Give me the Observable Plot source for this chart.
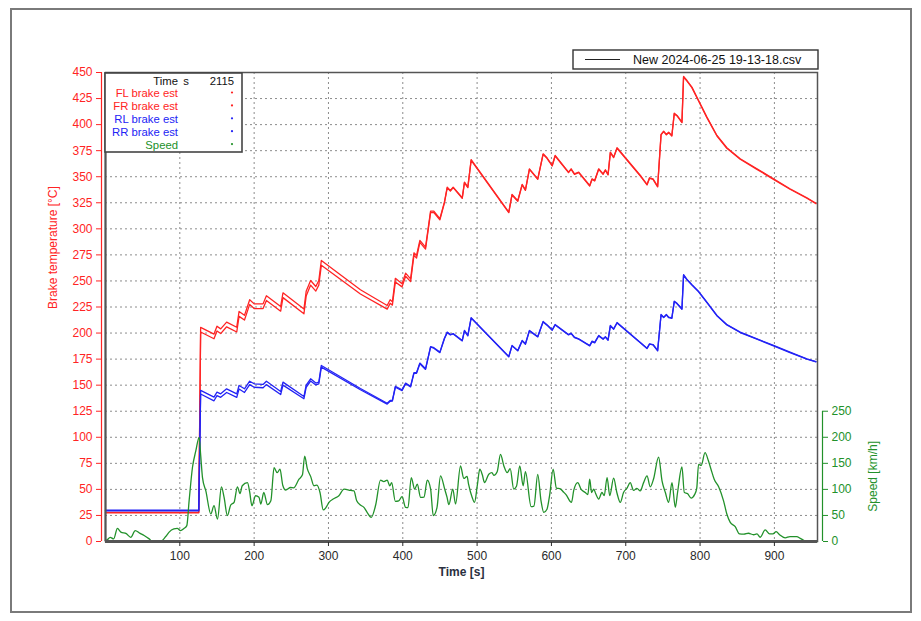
<!DOCTYPE html>
<html><head><meta charset="utf-8">
<script src="https://cdn.jsdelivr.net/npm/d3@7"></script>
<script src="https://cdn.jsdelivr.net/npm/@observablehq/plot@0.6"></script>
<style>
body{margin:0;background:#fff}
#chart{position:relative;width:921px;height:621px}
</style>
</head><body><div id="chart"></div>
<script>
// ---- data ----
const timeBrake = [0,125.5,128,146,150,155,163,176.6,179.7,187,194,200,212,216.5,235.7,238.8,267,270,276,283,287,290.4,343,379,383,386,390,399,403.8,410.5,415,418.5,423,430.6,437.4,441.8,449.9,456,459.8,464,467.8,480,483,487.5,492,542.6,547,554.7,560.6,565,570.4,581.6,588.8,594,601,605,623,626.5,631,636.7,651.5,654.7,658.2,663.6,669.5,672.6,676.2,679.3,683.7,688.3,720.8,728.6,732,736.7,742.9,747.5,751,754.6,757.7,762,765.3,769,775.6,777.8,782.4,789,798,809.2,822.7,836,854,876.5,898.8,921,943.7,956];
const flBrake = [28,28,205.5,199,206.6,204,210.5,205.6,220.7,217,232,228,228,235.8,225.5,238.6,223,240,250.4,244.7,250.4,269.6,241.5,226.5,232,230,252.5,247.3,257.5,252,277,274.4,289,282.4,317,317,309.7,325.6,340,336.8,340,329.8,344.8,340,366.3,316,333,327,342.6,337.4,357.6,348,372,368.2,360.8,370.4,354.4,357.6,352.8,354.4,341.6,348,346.4,357.6,352.8,356.7,352.2,373.6,368.8,377.8,350.2,342.6,349,348,340.7,390.6,393.7,390.6,392.8,389.6,411,408.8,402.4,446.2,442.3,436,423.2,407.2,389.6,377.8,367.2,357.6,348,338.5,329.8,324.6];
const frBrake = [27.5,27.5,201,194.5,202,199.5,206,201,216,212.5,227.5,223.5,223.5,231.3,221,234,218.5,235.5,246,240.3,246,265,237.5,223,228.5,226.8,249,244.3,254.5,249.3,274.5,272,287,280.6,315.5,315.7,308.6,324.8,339.3,336.2,339.5,329.3,344.3,339.5,365.8,315.5,332.5,326.5,342.1,336.9,357.1,347.5,371.5,367.7,360.3,369.9,353.9,357.1,352.3,353.9,341.1,347.5,345.9,357.1,352.3,356.2,351.7,373.1,368.3,377.3,349.7,342.1,348.5,347.5,340.2,390.1,393.2,390.1,392.3,389.1,410.5,408.3,401.9,445.7,441.8,435.5,422.7,406.7,389.1,377.3,366.7,357.1,347.5,338,329.3,324.1];
const rlBrake = [30,30,145,138.5,143.3,141.7,146.5,141.7,149.7,146.5,153.8,151.3,150.7,153.8,144,152.9,139.1,150,156.1,152,153,168.9,146.8,132.7,135.3,135.5,148.8,145.6,152,149,162,162,171.2,165.7,187,186,181.7,195,200.9,198.6,199.5,192.9,202.5,197.7,214.7,177.5,188.1,183.3,192.9,189.7,202.5,196.7,211.1,208,203.1,208.2,198.6,199.9,196,194.5,188.1,192.2,191,197.7,194.5,196.5,193.5,207.3,204,210.1,190.3,185.5,189.7,189,183.3,217.8,215.2,217.8,215.2,214.5,230.6,228.5,223.3,256,251.5,246.5,240,229.6,216.9,208.2,200.9,194.5,188.1,181.7,175.3,172.7];
const rrBrake = [29.5,29.5,141.5,135,140,138.3,143,138.3,146.3,143,150.5,148,147.5,150.5,141,150,137,148,154,150.2,151.3,167.3,145.6,131.8,134.5,134.7,148,144.8,151.3,148.3,161.3,161.4,170.6,165.1,186.5,185.5,181.2,194.5,200.4,198.2,199.1,192.5,202.1,197.3,214.3,177.1,187.7,182.9,192.5,189.3,202.1,196.3,210.7,207.6,202.7,207.8,198.2,199.5,195.6,194.1,187.7,191.8,190.6,197.3,194.1,196.1,193.1,206.9,203.6,209.7,189.9,185.1,189.3,188.6,182.9,217.4,214.8,217.4,214.8,214.1,230.2,228.1,222.9,255.6,251.1,246.1,239.6,229.2,216.5,207.8,200.5,194.1,187.7,181.3,174.9,172.3];

const timeSpeed = [0,2,6.3,11,16,20.7,28,34,40,46,52,58.8,63,74,81,85.6,92,96.5,101,105.5,109.4,112.5,117,121.5,126,128,130.5,135,141.7,146,150.7,156,159.5,164,168.5,173,177.5,181,184,191,194,197,202,206.5,209,213,218,222.5,226.8,231,234.8,238.5,242.5,249,253,260.4,265,268,271.5,276,280.5,284.5,288.6,293,296.5,300.7,307,314,321,330,334.3,338,343,347.7,352,357.6,363.5,370,374.5,379,382.5,385,390,394.5,399,403.8,407,411.4,416,419.5,424,428.5,433,437.5,441,446,450.8,456.5,459.5,462,467.3,471,477.7,482,486.5,488.5,493.4,496.5,500.5,503.6,507,510,515.7,520,522.5,527,531.5,536,540.5,544.5,549.3,553,557.4,562,565,572.7,576.5,581.6,586,589.7,594,597.7,602.3,606.7,612,615.5,619.6,627,630,635.4,640,645.5,649,651.5,654,657,659.5,663.6,668,671,674.9,678.5,683.7,688,692.7,697,701.7,706,710.5,715,719.5,724,728.6,733,737.4,744.2,748.8,753.3,757.7,762.2,766.7,769.7,775.6,778.8,783,788,792.6,795.5,798,801.5,806.7,811,814.7,819,825,831.6,836,840.6,847.3,853,859,865,872,876.5,881,887.6,893.5,898,902.4,907,914.5,921,930,935,940,943,958];
const speedKmh = [2,3,8,5,25,18,15,8,21,16,11.5,5,0.5,0,9.5,18,24,25,21,25,30.5,78,142,173.7,200,167,122.7,97,53,68.7,43,105,85,49.6,70,75,105,92,107,113,95,68.7,87.8,85,72,94,70.6,78,141.8,132,138.7,108,98.6,103.6,103,119.6,128,164,140,125,107,108,94,60.5,65,75,82,87.8,100.6,98,97.3,78,70,65.5,56,46.4,70,117.7,115,117.7,107,113,77,78,86,65.5,65,122.7,100.6,110,84.5,85,117.7,100,49.6,65,126,100,85,70.6,100.6,72,145,121,125,110,84.5,75,110,138.7,128,113,129,132,127,134,167.3,145,132,140,100.6,106,145,107,134,66.8,68,129,78,56,62,90,138.7,102.5,101,96,90,75,98,113,100,94,90,119.6,94,100.6,92,81.5,94,88,122.7,88,121.5,94,75,94,102.5,113,98,102,97,113,126,105,120,162,116.4,94,75,113,65.5,94,143,94,92,83.4,90,102,148,146,170.4,156,138.7,119.6,105,78,52.8,36.8,28.6,14.7,14,15.8,13,14.7,8.2,22.3,14.7,14.7,19,13,7,9.5,9.5,6,2,0,0];

const xTicks = [100,200,300,400,500,600,700,800,900];
const yTicks = [0,25,50,75,100,125,150,175,200,225,250,275,300,325,350,375,400,425,450];
const speedTicks = [0,50,100,150,200,250];
const xDomain = [0,958];
const yDomain = [0,450];
const SPEED_K = 0.5; // brake-axis units per km/h (250 km/h sits at 125 on the left axis)

const seriesNames = ["FL brake est","FR brake est","RL brake est","RR brake est","Speed"];
const RED="#ff2424", BLUE="#2323f5", GREEN="#22912a";
const seriesColors = [RED,RED,BLUE,BLUE,GREEN];
const headerLabel = ["Time","s","2115"];
const fileLabel = "New 2024-06-25 19-13-18.csv";

// ---- tables ----
const brake = timeBrake.map((t,i)=>({t, fl:flBrake[i], fr:frBrake[i], rl:rlBrake[i], rr:rrBrake[i]}));
const spd = timeSpeed.map((t,i)=>({t, v:speedKmh[i]}));

const W=921, H=621, mL=105, mR=104, mT=72, mB=80;
const FONT = "'Liberation Sans', Arial, Helvetica, sans-serif";
const grid = {stroke:"#8c8c8c", strokeOpacity:1, strokeDasharray:"2,3", strokeWidth:1};

const svg = Plot.plot({
  width: W, height: H,
  marginLeft: mL, marginRight: mR, marginTop: mT, marginBottom: mB,
  x: {domain: xDomain},
  y: {domain: yDomain},
  style: {fontFamily: FONT, fontSize: "12px", background: "transparent", overflow: "visible"},
  marks: [
    Plot.gridX(xTicks, grid),
    Plot.gridY(yTicks, grid),
    Plot.lineY(brake, {x:"t", y:"fr", stroke:RED, strokeWidth:1.3}),
    Plot.lineY(brake, {x:"t", y:"fl", stroke:RED, strokeWidth:1.3}),
    Plot.lineY(brake, {x:"t", y:"rr", stroke:BLUE, strokeWidth:1.3}),
    Plot.lineY(brake, {x:"t", y:"rl", stroke:BLUE, strokeWidth:1.3}),
    Plot.lineY(spd, {x:"t", y:d=>d.v*SPEED_K, stroke:GREEN, strokeWidth:1.3, curve:"monotone-x"}),
    Plot.frame({stroke:"#555", strokeWidth:1.5}),
    Plot.ruleY([yDomain[0]], {stroke:"#555", strokeWidth:3}),
    Plot.ruleX([xDomain[0]], {stroke:"#555", strokeWidth:2}),
    Plot.axisX(xTicks, {anchor:"bottom", tickSize:4, tickPadding:5, dy:1, color:"#2a2a2a", label:null}),
    Plot.axisY(yTicks, {anchor:"left", tickSize:5, tickPadding:4, dx:-4, color:RED, label:null}),
    Plot.ruleX([xDomain[0]], {y1:yDomain[0], y2:yDomain[1], dx:-4, stroke:RED, strokeWidth:1.2}),
    Plot.axisY(speedTicks.map(s=>s*SPEED_K), {anchor:"right", tickSize:5, tickPadding:4, dx:5, color:GREEN, tickFormat:d=>String(d/SPEED_K), label:null}),
    Plot.ruleX([xDomain[1]], {y1:speedTicks[0]*SPEED_K, y2:speedTicks[speedTicks.length-1]*SPEED_K, dx:5, stroke:GREEN, strokeWidth:1.2}),
    Plot.text(["Brake temperature [°C]"], {frameAnchor:"left", dx:-52, dy:2, rotate:-90, fill:RED, fontSize:12}),
    Plot.text(["Speed [km/h]"], {x:xDomain[1], y:(speedTicks[speedTicks.length-1]/2)*SPEED_K, dx:56, rotate:-90, fill:GREEN, fontSize:12}),
    Plot.text(["Time [s]"], {frameAnchor:"bottom", dy:34, fill:"#2a3040", fontSize:12, fontWeight:"bold"})
  ]
});

// ---- overlays: outer frame, inset value box, file legend ----
const s = d3.select(svg);
s.insert("rect", ":first-child")
  .attr("x", 11).attr("y", 9).attr("width", 900).attr("height", 603)
  .attr("fill", "white").attr("stroke", "#7a7a7a").attr("stroke-width", 2);

const box = s.append("g").attr("font-family", FONT).attr("font-size", 11.3);
const bx = mL, by = mT + 1, bw = 137, bh = 79;
box.append("rect").attr("x", bx).attr("y", by).attr("width", bw).attr("height", bh)
  .attr("fill", "white").attr("stroke", "#444").attr("stroke-width", 1.6);
box.append("text").attr("x", bx + 73).attr("y", by + 11.5).attr("text-anchor", "end").attr("fill", "#111").text(headerLabel[0]);
box.append("text").attr("x", bx + 84).attr("y", by + 11.5).attr("text-anchor", "end").attr("fill", "#111").text(headerLabel[1]);
box.append("text").attr("x", bx + 129).attr("y", by + 11.5).attr("text-anchor", "end").attr("fill", "#111").text(headerLabel[2]);
seriesNames.forEach((name, i) => {
  const yy = by + 24 + i * 12.9;
  box.append("text").attr("x", bx + 73).attr("y", yy).attr("text-anchor", "end").attr("fill", seriesColors[i]).text(name);
  box.append("circle").attr("cx", bx + 127).attr("cy", yy - 4.5).attr("r", 1.1).attr("fill", seriesColors[i]);
});

const lg = s.append("g").attr("font-family", FONT).attr("font-size", 12.5);
lg.append("rect").attr("x", 573).attr("y", 50).attr("width", 245).attr("height", 19)
  .attr("fill", "white").attr("stroke", "#333").attr("stroke-width", 1.4);
lg.append("line").attr("x1", 585).attr("x2", 620).attr("y1", 59.5).attr("y2", 59.5)
  .attr("stroke", "#222").style("stroke", "#222").attr("stroke-width", 1.2);
lg.append("text").attr("x", 633).attr("y", 64).attr("text-anchor", "start").attr("fill", "#111").text(fileLabel);

document.getElementById("chart").appendChild(svg);
</script>
</body></html>
